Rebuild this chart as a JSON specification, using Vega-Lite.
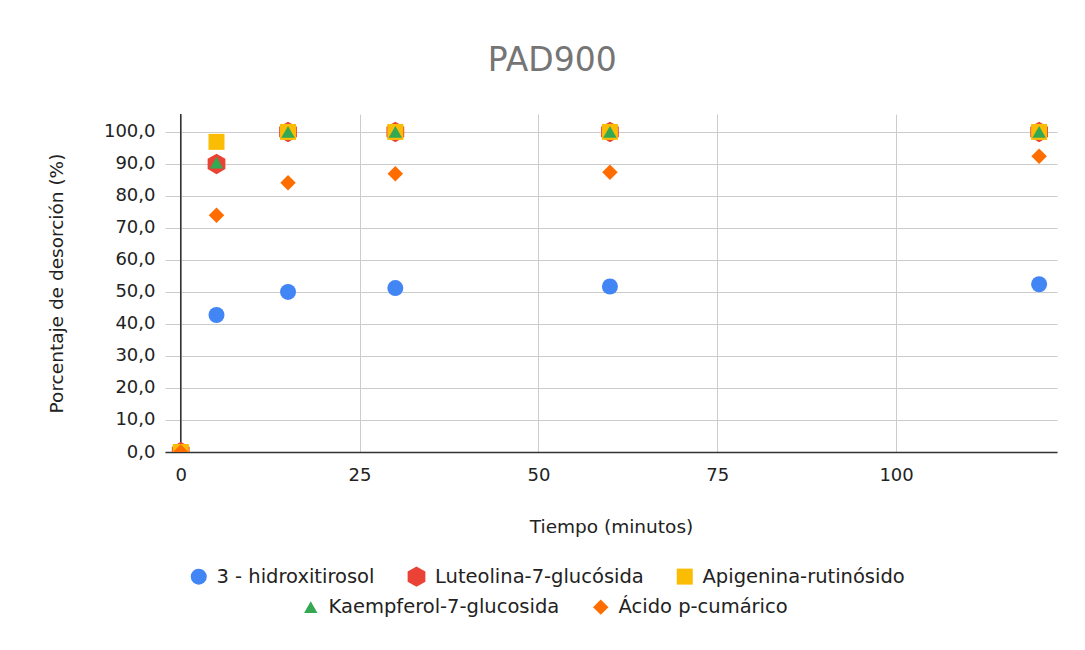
{
  "$schema": "https://vega.github.io/schema/vega-lite/v6.json",
  "width": 892,
  "height": 338,
  "padding": {"left": 47, "top": 45, "right": 28, "bottom": 10},
  "background": "white",
  "title": {
    "text": "PAD900",
    "fontSize": 33,
    "font": "DejaVu Sans",
    "fontWeight": "normal",
    "color": "#757575",
    "anchor": "middle",
    "frame": "bounds",
    "offset": 35
  },
  "datasets": {
    "d": [
      {"serie": "3 - hidroxitirosol", "tiempo": 0, "porcentaje": 0},
      {"serie": "3 - hidroxitirosol", "tiempo": 5, "porcentaje": 42.8},
      {"serie": "3 - hidroxitirosol", "tiempo": 15, "porcentaje": 50.0},
      {"serie": "3 - hidroxitirosol", "tiempo": 30, "porcentaje": 51.2},
      {"serie": "3 - hidroxitirosol", "tiempo": 60, "porcentaje": 51.7},
      {"serie": "3 - hidroxitirosol", "tiempo": 120, "porcentaje": 52.4},
      {"serie": "Luteolina-7-glucósida", "tiempo": 0, "porcentaje": 0},
      {"serie": "Luteolina-7-glucósida", "tiempo": 5, "porcentaje": 90.0},
      {"serie": "Luteolina-7-glucósida", "tiempo": 15, "porcentaje": 100},
      {"serie": "Luteolina-7-glucósida", "tiempo": 30, "porcentaje": 100},
      {"serie": "Luteolina-7-glucósida", "tiempo": 60, "porcentaje": 100},
      {"serie": "Luteolina-7-glucósida", "tiempo": 120, "porcentaje": 100},
      {"serie": "Apigenina-rutinósido", "tiempo": 0, "porcentaje": 0},
      {"serie": "Apigenina-rutinósido", "tiempo": 5, "porcentaje": 96.9},
      {"serie": "Apigenina-rutinósido", "tiempo": 15, "porcentaje": 100},
      {"serie": "Apigenina-rutinósido", "tiempo": 30, "porcentaje": 100},
      {"serie": "Apigenina-rutinósido", "tiempo": 60, "porcentaje": 100},
      {"serie": "Apigenina-rutinósido", "tiempo": 120, "porcentaje": 100},
      {"serie": "Kaempferol-7-glucosida", "tiempo": 0, "porcentaje": 0},
      {"serie": "Kaempferol-7-glucosida", "tiempo": 5, "porcentaje": 90.4},
      {"serie": "Kaempferol-7-glucosida", "tiempo": 15, "porcentaje": 100},
      {"serie": "Kaempferol-7-glucosida", "tiempo": 30, "porcentaje": 100},
      {"serie": "Kaempferol-7-glucosida", "tiempo": 60, "porcentaje": 100},
      {"serie": "Kaempferol-7-glucosida", "tiempo": 120, "porcentaje": 100},
      {"serie": "Ácido p-cumárico", "tiempo": 0, "porcentaje": 0},
      {"serie": "Ácido p-cumárico", "tiempo": 5, "porcentaje": 74.0},
      {"serie": "Ácido p-cumárico", "tiempo": 15, "porcentaje": 84.1},
      {"serie": "Ácido p-cumárico", "tiempo": 30, "porcentaje": 86.9},
      {"serie": "Ácido p-cumárico", "tiempo": 60, "porcentaje": 87.4},
      {"serie": "Ácido p-cumárico", "tiempo": 120, "porcentaje": 92.4}
    ]
  },
  "layer": [
    {
      "data": {"values": [{"v": 0}]},
      "mark": {"type": "rule", "color": "#333333", "strokeWidth": 1.5},
      "encoding": {
        "x": {"field": "v", "type": "quantitative"}
      }
    },
    {
      "data": {"name": "d"},
      "transform": [{"filter": {"field": "serie", "oneOf": ["3 - hidroxitirosol", "Luteolina-7-glucósida", "Apigenina-rutinósido"]}}],
      "mark": {"type": "point", "filled": true, "opacity": 1, "clip": true},
      "encoding": {
        "x": {"field": "tiempo", "type": "quantitative"},
        "y": {"field": "porcentaje", "type": "quantitative"},
        "color": {
          "field": "serie", "type": "nominal",
          "scale": {"domain": ["3 - hidroxitirosol", "Luteolina-7-glucósida", "Apigenina-rutinósido"], "range": ["#4285F4", "#EA4335", "#FBBC04"]},
          "legend": {"title": null, "orient": "none", "legendX": 24, "legendY": 452, "direction": "horizontal"}
        },
        "shape": {
          "field": "serie", "type": "nominal",
          "scale": {"domain": ["3 - hidroxitirosol", "Luteolina-7-glucósida", "Apigenina-rutinósido"], "range": ["circle", "M0,-1L0.866,-0.5L0.866,0.5L0,1L-0.866,0.5L-0.866,-0.5Z", "square"]},
          "legend": {"title": null, "orient": "none", "legendX": 24, "legendY": 452, "direction": "horizontal"}
        },
        "size": {
          "field": "serie", "type": "nominal",
          "scale": {"type": "ordinal", "domain": ["3 - hidroxitirosol", "Luteolina-7-glucósida", "Apigenina-rutinósido"], "range": [256, 420, 256]},
          "legend": {"title": null, "orient": "none", "legendX": 24, "legendY": 452, "direction": "horizontal"}
        }
      }
    },
    {
      "data": {"name": "d"},
      "transform": [{"filter": {"field": "serie", "oneOf": ["Kaempferol-7-glucosida", "Ácido p-cumárico"]}}],
      "mark": {"type": "point", "filled": true, "opacity": 1, "clip": true},
      "encoding": {
        "x": {"field": "tiempo", "type": "quantitative"},
        "y": {"field": "porcentaje", "type": "quantitative"},
        "color": {
          "field": "serie", "type": "nominal",
          "scale": {"domain": ["Kaempferol-7-glucosida", "Ácido p-cumárico"], "range": ["#34A853", "#FF6D01"]},
          "legend": {"title": null, "orient": "none", "legendX": 136, "legendY": 483, "direction": "horizontal"}
        },
        "shape": {
          "field": "serie", "type": "nominal",
          "scale": {"domain": ["Kaempferol-7-glucosida", "Ácido p-cumárico"], "range": ["triangle-up", "diamond"]},
          "legend": {"title": null, "orient": "none", "legendX": 136, "legendY": 483, "direction": "horizontal"}
        },
        "size": {
          "field": "serie", "type": "nominal",
          "scale": {"type": "ordinal", "domain": ["Kaempferol-7-glucosida", "Ácido p-cumárico"], "range": [180, 240]},
          "legend": {"title": null, "orient": "none", "legendX": 136, "legendY": 483, "direction": "horizontal"}
        }
      }
    }
  ],
  "encoding": {
    "x": {
      "type": "quantitative",
      "title": "Tiempo (minutos)",
      "scale": {"domain": [-2.2, 122.5], "nice": false, "zero": false},
      "axis": {"values": [0, 25, 50, 75, 100], "format": "d", "labelPadding": 14, "titlePadding": 33}
    },
    "y": {
      "type": "quantitative",
      "title": "Porcentaje de desorción (%)",
      "scale": {"domain": [0, 105.6], "nice": false, "zero": false},
      "axis": {"values": [0, 10, 20, 30, 40, 50, 60, 70, 80, 90, 100], "labelExpr": "replace(format(datum.value, '.1f'), '.', ',')", "labelPadding": 10, "titlePadding": 37, "domain": false}
    }
  },
  "resolve": {"scale": {"color": "independent", "shape": "independent", "size": "independent"}},
  "config": {
    "font": "DejaVu Sans",
    "view": {"stroke": null},
    "axis": {
      "labelFont": "DejaVu Sans",
      "labelFontSize": 18,
      "labelColor": "#222222",
      "titleFont": "DejaVu Sans",
      "titleFontSize": 18.5,
      "titleFontWeight": "normal",
      "titleColor": "#222222",
      "gridColor": "#cccccc",
      "gridWidth": 1,
      "ticks": false,
      "tickSize": 0,
      "domainColor": "#333333",
      "domainWidth": 1.5
    },
    "legend": {
      "labelFont": "DejaVu Sans",
      "labelFontSize": 19.5,
      "labelColor": "#222222",
      "labelLimit": 0,
      "labelOffset": 8,
      "columnPadding": 31,
      "symbolStrokeWidth": 0
    }
  }
}
